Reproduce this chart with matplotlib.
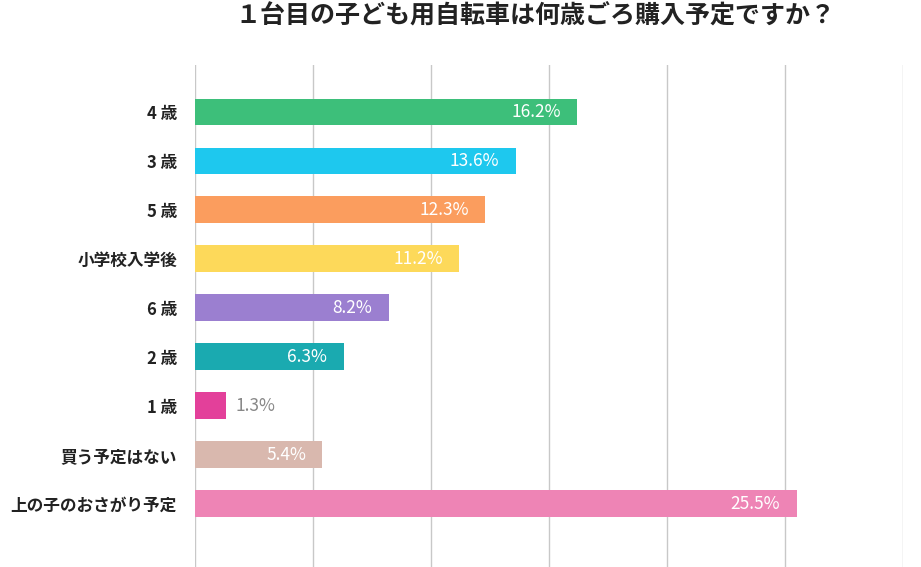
import matplotlib.pyplot as plt

plt.rcParams['font.family'] = ['Noto Sans CJK JP', 'DejaVu Sans']

categories = ["4 歳", "3 歳", "5 歳", "小学校入学後", "6 歳", "2 歳", "1 歳", "買う予定はない", "上の子のおさがり予定"]
values = [16.2, 13.6, 12.3, 11.2, 8.2, 6.3, 1.3, 5.4, 25.5]
colors = ["#3dbf7a", "#1ec8ee", "#fb9d5e", "#fdd95a", "#9b7fd0",
          "#1aaab0", "#e3409a", "#d9b8ae", "#ee84b5"]

fig = plt.figure(figsize=(9.21, 5.67), dpi=100)
ax = fig.add_axes([195 / 921, 0, 708 / 921, 502 / 567])

ypos = list(range(len(categories)))
ax.barh(ypos, values, height=0.55, color=colors, zorder=3)
ax.set_ylim(len(categories) - 1 + 1.29, -0.96)
ax.set_xlim(0, 30)
ax.set_xticks([0, 5, 10, 15, 20, 25, 30])
ax.xaxis.grid(True, color="#c8c8c8", linewidth=1, zorder=0)
ax.set_xticklabels([])
ax.tick_params(length=0)
for s in ax.spines.values():
    s.set_visible(False)
ax.set_yticks(ypos)
ax.set_yticklabels(categories, fontsize=12, fontweight="bold", color="#222222")
ax.tick_params(axis="y", pad=13)

for y, v in zip(ypos, values):
    if v < 3:
        ax.text(v + 0.4, y, f"{v}%", va="center", ha="left", fontsize=12.5,
                color="#888888", zorder=4)
    else:
        ax.text(v - 0.7, y, f"{v}%", va="center", ha="right", fontsize=12.5,
                color="white", zorder=4)

fig.text(535 / 921, 0.972, "１台目の子ども用自転車は何歳ごろ購入予定ですか？",
         ha="center", va="center", fontsize=18, fontweight="bold", color="#222222")

fig.savefig("out.png", dpi=100)
